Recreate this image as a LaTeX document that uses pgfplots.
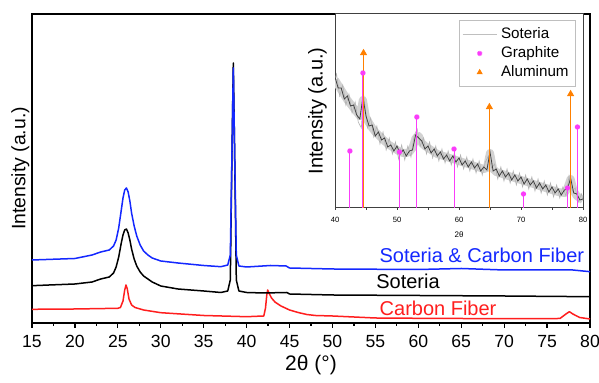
\documentclass[border=0pt]{standalone}
\usepackage{fontspec}
\setmainfont{Liberation Sans}
\usepackage{pgfplots}
\pgfplotsset{compat=1.18}
\definecolor{cfblue}{RGB}{20,40,255}
\definecolor{cfred}{RGB}{255,30,30}
\definecolor{gmag}{RGB}{250,60,250}
\definecolor{alor}{RGB}{255,128,0}
\begin{document}
\begin{tikzpicture}
\begin{axis}[
 at={(16pt,30pt)}, anchor=south west,
 scale only axis, width=279pt, height=154.5pt,
 xmin=15, xmax=80, ymin=0, ymax=309,
 xtick={15,20,...,80}, minor x tick num=1,
 ytick=\empty, xtick pos=left, tick align=outside,
 major tick length=2.5pt, minor tick length=1.5pt,
 tick label style={font=\fontsize{8.8}{10}\selectfont},
 /pgf/number format/assume math mode=true,
 xlabel={2θ (°)},
 xlabel style={font=\fontsize{10.5}{12}\selectfont, at={(axis description cs:0.5,0)}, anchor=center, yshift=-21pt},
 ylabel={Intensity (a.u.)},
 ylabel style={font=\fontsize{9.7}{11}\selectfont, at={(axis description cs:-0.004,0.5)}, anchor=south, inner sep=0pt},
 axis line style={line width=0.6pt},
 every tick/.style={black, line width=0.6pt},
]
\addplot[cfred, line width=0.75pt, line join=round] coordinates {
(15,13.7) (20,14) (25,14.7) (25.3,15.5) (25.6,22) (25.8,33) (25.95,38) (26.1,34) (26.3,24) (26.6,18) (27,15.5) (28,13) (30,10.3) (35,7.5) (40,6.3) (42,7) (42.2,15) (42.35,28) (42.45,33) (42.6,30) (42.9,25) (43.3,21) (44,17) (45,13) (46,10.5) (47,8.5) (48,7.5) (50,7) (55,5) (60,4.7) (70,4.3) (76.5,4.5) (77.2,9) (77.6,11.3) (78,9) (78.8,5.5) (80,4)
};
\addplot[black, line width=0.75pt, line join=round] coordinates {
(15,37.3) (17,38) (20,39) (22,41) (23,44) (24,46) (24.5,50) (24.8,56) (25.1,66) (25.4,80) (25.6,88) (25.8,93) (26.0,94) (26.2,90) (26.4,83) (26.6,74) (26.9,64) (27.2,57) (27.6,51) (28,47) (28.5,44) (29,41) (30,37) (32,34) (35,32) (37,30.5) (37.8,32) (38.1,43) (38.3,173) (38.45,260) (38.6,173) (38.8,43) (39.1,32) (40,30.5) (42,30) (44.7,30.5) (45,29) (50,28) (60,27.5) (70,27) (80,26.3)
};
\addplot[cfblue, line width=0.75pt, line join=round] coordinates {
(15,63) (20,64.5) (22,68) (23,71) (24,73) (24.5,77) (24.8,83) (25.1,95) (25.4,113) (25.6,125) (25.8,133) (26.0,135) (26.2,131) (26.4,122) (26.6,110) (26.9,97) (27.2,87) (27.6,78) (28,72) (28.5,68) (29,65) (30,62) (32,60) (35,57.5) (37,56.3) (37.8,58) (38.1,68) (38.3,173) (38.45,255) (38.6,173) (38.8,68) (39.1,57) (40,56) (42.8,57.5) (44.6,57) (45,55) (50,54) (60,53.5) (65,54.5) (70,53) (78,53) (80,51.3)
};
\node[cfblue, font=\fontsize{10}{12}\selectfont] at (axis cs:67.4,68) {Soteria \& Carbon Fiber};
\node[black, font=\fontsize{10}{12}\selectfont] at (axis cs:58.8,41.3) {Soteria};
\node[cfred, font=\fontsize{10}{12}\selectfont] at (axis cs:62.3,15) {Carbon Fiber};
\end{axis}

\begin{axis}[
 at={(167.5pt,87.5pt)}, anchor=south west,
 scale only axis, width=124pt, height=97pt,
 xmin=40, xmax=80, ymin=0, ymax=194,
 xtick={40,50,...,80}, minor x tick num=1,
 ytick=\empty, xtick pos=left, tick align=outside,
 major tick length=1pt, minor tick length=1pt,
 tick label style={font=\fontsize{3.8}{4.5}\selectfont},
 /pgf/number format/assume math mode=true,
 xlabel={2θ},
 xlabel style={font=\fontsize{4}{5}\selectfont, at={(axis description cs:0.5,0)}, anchor=center, yshift=-13.5pt},
 ylabel={Intensity (a.u.)},
 ylabel style={font=\fontsize{10}{12}\selectfont, at={(axis description cs:-0.032,0.5)}, anchor=south, inner sep=0pt},
 axis background/.style={fill=white},
 axis line style={black!75, line width=0.5pt},
 every tick/.style={black!75, line width=0.4pt},
 legend style={at={(axis description cs:0.972,0.969)}, anchor=north east, draw=black!25, font=\fontsize{7.6}{9}\selectfont, row sep=-1.5pt, inner sep=1.5pt},
 legend cell align=left,
]
\addlegendimage{legend image code/.code={\draw[gray!50,line width=0.4pt] (0pt,0pt) -- (17pt,0pt);}}
\addlegendentry{Soteria}
\addlegendimage{legend image code/.code={\draw[gmag,fill=gmag] plot[only marks, mark=10-pointed star, mark size=1.3pt] coordinates {(8.5pt,0pt)};}}
\addlegendentry{Graphite}
\addlegendimage{legend image code/.code={\draw[alor,fill=alor] plot[only marks, mark=triangle*, mark size=1.4pt] coordinates {(8.5pt,0pt)};}}
\addlegendentry{Aluminum}
% band
\addplot[gray!35, line width=4pt, line join=round, forget plot] coordinates {
(40,128) (40.5,123) (41,118) (41.5,113) (42,108) (42.5,104) (43,100) (43.5,96) (44,92) (44.5,108) (45,90) (45.5,85) (46,80) (46.5,76) (47,73) (47.5,70) (48,67) (48.5,64) (49,62) (49.5,60) (50,58) (50.5,56) (51,55) (51.5,55) (52,56) (52.5,60) (53,70) (53.5,72) (54,65) (54.5,62) (55,60) (55.5,58) (56,56) (56.5,54) (57,53) (57.5,52) (58,51) (58.5,50) (59,49) (59.5,48) (60,47) (60.5,46) (61,45) (61.5,44) (62,43) (62.5,42) (63,41) (63.5,40) (64,39) (64.5,40) (65,55) (65.5,39) (66,36) (66.5,35) (67,34) (67.5,33) (68,32) (68.5,31) (69,30) (69.5,29) (70,28) (70.5,27) (71,26) (71.5,25) (72,24) (72.5,23) (73,22) (73.5,21) (74,20) (74.5,19) (75,18) (75.5,17) (76,16) (76.5,15.5) (77,15) (77.5,20) (78,29) (78.5,17) (79,12) (79.5,10) (80,8)
};
\addplot[gray!60, line width=0.3pt, forget plot] coordinates {
(40,128) (40.25,134) (40.75,112) (41.25,123) (41.75,103) (42.25,114) (42.75,95) (43.25,106) (43.75,86) (44.25,80) (44.6,114) (44.75,106) (45.25,80) (45.75,90) (46.25,71) (46.75,82) (47.25,64) (47.75,76) (48.25,58) (48.75,70) (49.25,54) (49.75,66) (50.25,49) (50.75,63) (51.25,48) (51.75,62) (52.25,51) (52.75,72) (53.25,79) (53.75,62) (54.25,70) (54.75,54) (55.25,66) (55.75,50) (56.25,62) (56.75,47) (57.25,59) (57.75,45) (58.25,57) (58.75,43) (59.25,55) (59.75,41) (60.25,53) (60.75,39) (61.25,51) (61.75,37) (62.25,49) (62.75,35) (63.25,47) (63.75,33) (64.25,46) (64.75,52) (65.25,40) (65.75,44) (66.25,29) (66.75,41) (67.25,27) (67.75,39) (68.25,25) (68.75,37) (69.25,23) (69.75,35) (70.25,21) (70.75,33) (71.25,19) (71.75,31) (72.25,17) (72.75,29) (73.25,15) (73.75,27) (74.25,13) (74.75,25) (75.25,11) (75.75,23) (76.25,10) (76.75,21) (77.25,12) (77.75,32) (78.25,17) (78.75,20) (79.25,6) (79.75,14) (80,8)
};
\addplot[black!75, line width=0.4pt, forget plot] coordinates {
(40,131) (40.5,120) (41,120) (41.5,109) (42,112) (42.5,102) (43,103) (43.5,93) (44,89) (44.5,111) (45,92) (45.5,82) (46,83) (46.5,72) (47,76) (47.5,68) (48,70) (48.5,61) (49,63) (49.5,57) (50,62) (50.5,54) (51,58) (51.5,52) (52,57) (52.5,58) (53,73) (53.5,70) (54,67) (54.5,59) (55,62) (55.5,55) (56,59) (56.5,52) (57,56) (57.5,49) (58,53) (58.5,47) (59,52) (59.5,46) (60,50) (60.5,43) (61,47) (61.5,41) (62,46) (62.5,40) (63,44) (63.5,37) (64,41) (64.5,38) (65,56) (65.5,37) (66,39) (66.5,32) (67,37) (67.5,31) (68,35) (68.5,28) (69,33) (69.5,27) (70,31) (70.5,24) (71,29) (71.5,23) (72,27) (72.5,20) (73,25) (73.5,19) (74,23) (74.5,16) (75,21) (75.5,15) (76,19) (76.5,13) (77,18) (77.5,19) (78,30) (78.5,15) (79,14) (79.5,8) (80,9)
};
% Graphite stems
\addplot[ycomb, gmag, line width=0.5pt, mark=10-pointed star, mark size=1.3pt, mark options={fill=gmag}, forget plot] coordinates {
(42.4,57) (44.5,135) (50.4,56) (53.2,91) (59.2,59) (70.4,14) (77.5,20) (79.1,81)
};
% Aluminum stems
\addplot[ycomb, alor, line width=0.7pt, mark=triangle*, mark size=1.4pt, mark options={fill=alor}, forget plot] coordinates {
(44.6,155) (64.9,101) (78.0,114)
};
\end{axis}
\pgfresetboundingbox
\path[use as bounding box] (0,0) rectangle (299.5pt,191.5pt);
\end{tikzpicture}
\end{document}
